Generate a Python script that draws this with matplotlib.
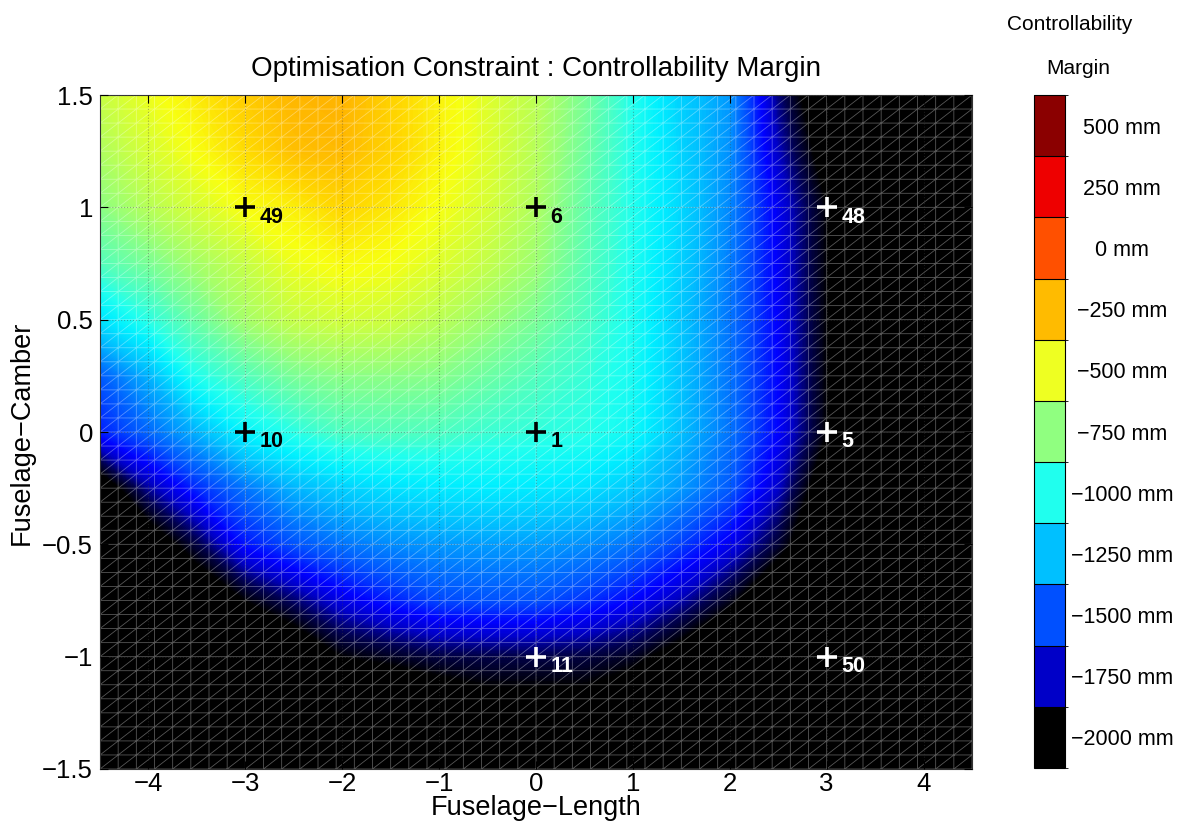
import numpy as np
import matplotlib
matplotlib.use('Agg')
import matplotlib.pyplot as plt
from matplotlib.colors import LinearSegmentedColormap, ListedColormap, BoundaryNorm
from matplotlib.cm import ScalarMappable
from matplotlib.tri import Triangulation
from matplotlib.ticker import FuncFormatter

plt.rcParams['font.family'] = ['Liberation Sans', 'DejaVu Sans']
plt.rcParams['axes.unicode_minus'] = True

# ---------------- data ----------------
x_nodes = [-4.5, -4.0, -3.5, -3.0, -2.5, -2.0, -1.5, -1.0, -0.5, 0.0,
           0.5, 1.0, 1.5, 2.0, 2.5, 3.0, 3.5, 4.0, 4.5]
y_nodes = [1.5, 1.25, 1.0, 0.75, 0.5, 0.25, 0.0, -0.25, -0.5, -0.75, -1.0, -1.25, -1.5]

margin_mm = [
    [-620, -530, -450, -360, -290, -280, -380, -470, -560, -650, -800, -1000, -1200, -1340, -1830, -2200, -2300, -2300, -2300],
    [-680, -580, -500, -410, -320, -300, -380, -470, -560, -660, -820, -1000, -1190, -1360, -1760, -2100, -2300, -2300, -2300],
    [-760, -660, -580, -500, -460, -390, -440, -510, -580, -680, -850, -1000, -1180, -1380, -1680, -2000, -2300, -2300, -2300],
    [-890, -800, -700, -620, -530, -490, -510, -560, -630, -720, -870, -1010, -1200, -1400, -1670, -2000, -2300, -2300, -2300],
    [-1150, -980, -830, -700, -620, -590, -600, -650, -720, -800, -900, -1020, -1230, -1420, -1660, -2000, -2300, -2300, -2300],
    [-1480, -1280, -1000, -890, -800, -760, -760, -770, -830, -890, -950, -1030, -1240, -1420, -1650, -2000, -2300, -2300, -2300],
    [-1600, -1450, -1280, -1080, -980, -900, -890, -900, -940, -960, -980, -1050, -1250, -1420, -1650, -2000, -2300, -2300, -2300],
    [-2150, -1800, -1580, -1420, -1280, -1200, -1150, -1120, -1110, -1120, -1150, -1220, -1340, -1480, -1750, -2150, -2300, -2300, -2300],
    [-2300, -2150, -1900, -1620, -1500, -1420, -1370, -1340, -1330, -1330, -1360, -1420, -1540, -1680, -1920, -2250, -2300, -2300, -2300],
    [-2300, -2300, -2200, -2000, -1850, -1700, -1600, -1520, -1500, -1500, -1560, -1650, -1780, -1960, -2250, -2300, -2300, -2300, -2300],
    [-2300, -2300, -2300, -2300, -2200, -2000, -1950, -1900, -1890, -1890, -1900, -1950, -2100, -2300, -2300, -2300, -2300, -2300, -2300],
    [-2300, -2300, -2300, -2300, -2300, -2300, -2300, -2200, -2100, -2100, -2100, -2200, -2300, -2300, -2300, -2300, -2300, -2300, -2300],
    [-2300, -2300, -2300, -2300, -2300, -2300, -2300, -2300, -2300, -2300, -2300, -2300, -2300, -2300, -2300, -2300, -2300, -2300, -2300],
]

levels = [-2000, -1750, -1500, -1250, -1000, -750, -500, -250, 0, 250, 500]
level_colors = ['#000000', '#0000C8', '#0050FF', '#00C0FF', '#20FFEE', '#90FF80',
                '#EEFF22', '#FFBB00', '#FF5000', '#EE0000', '#8B0000']

field_vals = [-2000, -1875, -1750, -1650, -1500, -1250, -1100, -1000, -750, -500, -400, -280, 0, 250, 500]
field_cols = ['#000000', '#000050', '#0000C8', '#0000FF', '#0050FF', '#00C0FF', '#00F0FF', '#20FFEE',
              '#90FF80', '#F8FF10', '#FFD800', '#FFB400', '#FF5000', '#EE0000', '#8B0000']

points_x = [-3, 0, 3, -3, 0, 3, 0, 3]
points_y = [1, 1, 1, 0, 0, 0, -1, -1]
point_ids = ['49', '6', '48', '10', '1', '5', '11', '50']
point_colors = ['black', 'black', 'white', 'black', 'black', 'white', 'white', 'white']

xticks = [-4, -3, -2, -1, 0, 1, 2, 3, 4]
yticks = [-1.5, -1, -0.5, 0, 0.5, 1, 1.5]

# ---------------- figure ----------------
W, H = 1186, 838
fig = plt.figure(figsize=(W / 100, H / 100), dpi=100)
ax = fig.add_axes([100 / W, 1 - 769 / H, 872 / W, 674 / H])

vmin, vmax = levels[0], levels[-1]
pos = [(v - vmin) / (vmax - vmin) for v in field_vals]
field_cmap = LinearSegmentedColormap.from_list('margin', list(zip(pos, field_cols)), N=512)
field_cmap.set_under('black')
field_cmap.set_over('#8B0000')

X, Y = np.meshgrid(x_nodes, y_nodes)
Z = np.array(margin_mm, dtype=float)
ax.contourf(X, Y, Z, levels=np.linspace(vmin, vmax, 251), cmap=field_cmap,
            extend='both', antialiased=False, zorder=1)

# fine triangulated mesh edges (style of the original trisurf)
fx = np.linspace(-4.5, 4.5, 49)
fy = np.linspace(-1.5, 1.5, 49)
FX, FY = np.meshgrid(fx, fy)
nx = len(fx)
tris = []
for j in range(len(fy) - 1):
    for i in range(nx - 1):
        a = j * nx + i
        b = a + 1
        c = a + nx + 1
        d = a + nx
        tris.append([a, b, c])
        tris.append([a, c, d])
tri = Triangulation(FX.ravel(), FY.ravel(), np.array(tris))
ax.triplot(tri, color='white', lw=0.6, alpha=0.34, zorder=2)

ax.set_xlim(-4.5, 4.5)
ax.set_ylim(-1.5, 1.5)
ax.set_xticks(xticks)
ax.set_yticks(yticks)
fmt = FuncFormatter(lambda v, p: ('%g' % v).replace('-', '\u2212'))
ax.xaxis.set_major_formatter(fmt)
ax.yaxis.set_major_formatter(fmt)
ax.tick_params(direction='in', length=6, top=True, right=True, labelsize=18.5, width=0.8)
ax.tick_params(axis='x', pad=2.5)
ax.tick_params(axis='y', pad=5)
ax.grid(True, color='#404040', linestyle=':', linewidth=0.8, alpha=0.4, zorder=3)
ax.set_axisbelow(False)
for s in ax.spines.values():
    s.set_linewidth(0.8)
    s.set_color('#333333')

# markers and labels
for px, py, pid, pc in zip(points_x, points_y, point_ids, point_colors):
    ax.plot(px, py, marker='+', markersize=14, markeredgewidth=2.6, color=pc, zorder=5, ls='none')
    ax.annotate(pid, (px, py), xytext=(10.5, -7), textcoords='offset points',
                ha='left', va='center', fontsize=15.5, fontweight='bold', color=pc, zorder=6)

ax.set_title('Optimisation Constraint : Controllability Margin', fontsize=20, pad=14)
fig.text(536 / W, 1 - 808 / H, 'Fuselage\u2212Length', fontsize=19.5, ha='center', va='center')
fig.text(22 / W, 1 - 433 / H, 'Fuselage\u2212Camber', fontsize=19.5, ha='center', va='center', rotation=90)

# colorbar
cax = fig.add_axes([1034 / W, 1 - 768 / H, 31 / W, 673 / H])
bounds = [levels[0] - 125] + [v + 125 for v in levels]
sm = ScalarMappable(norm=BoundaryNorm(bounds, len(level_colors)), cmap=ListedColormap(level_colors))
cb = fig.colorbar(sm, cax=cax, ticks=levels, drawedges=True)
cb.set_ticklabels([('%d mm' % v).replace('-', '\u2212') for v in levels])
cb.outline.set_linewidth(0.8)
cb.dividers.set_linewidth(0.8)
cb.ax.tick_params(length=0, labelsize=15.5, pad=41)
for lbl in cb.ax.get_yticklabels():
    lbl.set_horizontalalignment('center')

fig.text(1070 / W, 1 - 30 / H, 'Controllability', fontsize=15, ha='center', va='baseline')
fig.text(1078 / W, 1 - 74 / H, 'Margin', fontsize=15, ha='center', va='baseline')

fig.savefig('out.png', dpi=100)
